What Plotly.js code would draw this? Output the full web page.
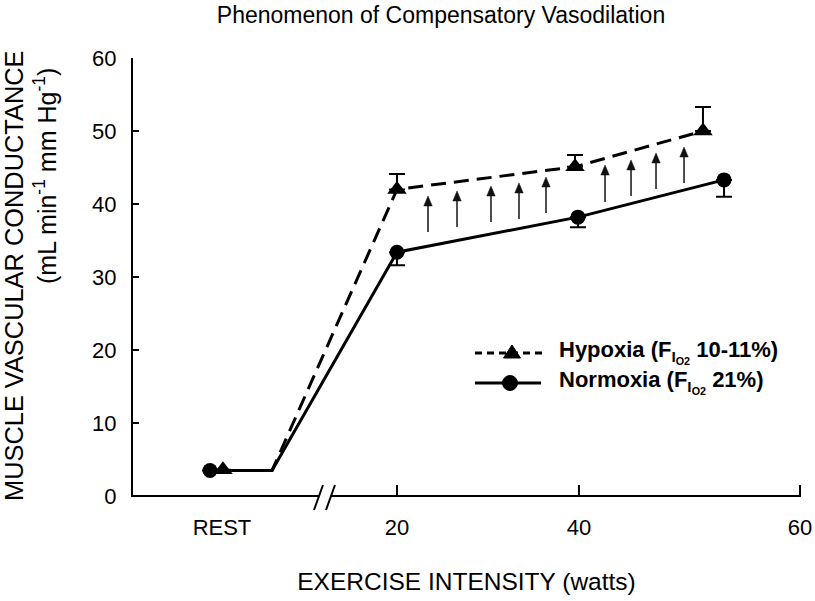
<!DOCTYPE html>
<html><head><meta charset="utf-8">
<script src="https://cdn.plot.ly/plotly-3.0.1.min.js"></script>
<style>html,body{margin:0;padding:0;background:#fff}</style>
</head><body><div id="chart" style="width:815px;height:601px"></div>
<script>
const FONT = 'Liberation Sans, Arial, Helvetica, sans-serif';

// x values are in the figure's drawn axis units
const xTickVals = [2.63, 20, 38.06, 60];
const xTickText = ['REST', '20', '40', '60'];
const xMarkTicks = [20, 38.06, 60];
const yTickVals = [0, 10, 20, 30, 40, 50, 60];

const hypoxiaX = [2.73, 20, 37.67, 50.37];
const hypoxiaY = [3.6, 42.0, 45.1, 50.0];
const hypoxiaErrUp = [0, 2.1, 1.6, 3.3];

const normoxiaX = [1.44, 20, 37.96, 52.46];
const normoxiaY = [3.5, 33.4, 38.2, 43.3];
const normoxiaErrDown = [0, 1.8, 1.4, 2.3];

const restLevel = 3.5;
const restSegmentEndX = 7.6;

const arrowX    = [23.08, 25.96, 29.33, 32.11, 34.79, 40.65, 43.23, 45.71, 48.49];
const arrowTail = [36.16, 36.85, 37.53, 37.95, 38.77, 40.27, 41.10, 42.05, 42.88];
const arrowHead = [41.10, 41.78, 42.47, 42.88, 43.70, 45.34, 46.03, 46.99, 47.81];

const breakX = [12.21, 13.40];

const X_MIN = -6.2, X_MAX = 60, Y_MIN = 0, Y_MAX = 60;
const W = 815, H = 601, ML = 133, MR = 15, MT = 58, MB = 105;
const PW = W - ML - MR, PH = H - MT - MB;
const UX = PW / (X_MAX - X_MIN), UY = PH / (Y_MAX - Y_MIN);
const xp = v => (v - X_MIN) / (X_MAX - X_MIN);
const pxX = px => (px - ML) / PW;
const pxY = py => (H - MB - py) / PH;

const lineX = (xs) => [xs[0], restSegmentEndX].concat(xs.slice(1));
const lineY = (ys) => [restLevel, restLevel].concat(ys.slice(1));

const traces = [
  { x: lineX(normoxiaX), y: lineY(normoxiaY), mode: 'lines', type: 'scatter',
    line: { color: '#000', width: 3 }, showlegend: false, hoverinfo: 'skip' },
  { x: lineX(hypoxiaX), y: lineY(hypoxiaY), mode: 'lines', type: 'scatter',
    line: { color: '#000', width: 3, dash: '15px,8px' }, showlegend: false, hoverinfo: 'skip' },
  { x: normoxiaX, y: normoxiaY, mode: 'markers', type: 'scatter', name: 'Normoxia',
    marker: { symbol: 'circle', size: 15, color: '#000' }, cliponaxis: false,
    error_y: { type: 'data', symmetric: false, array: normoxiaX.map(() => 0), arrayminus: normoxiaErrDown,
      color: '#000', thickness: 2, width: 8 }, showlegend: false },
  { x: hypoxiaX, y: hypoxiaY, mode: 'markers', type: 'scatter', name: 'Hypoxia',
    marker: { symbol: 'triangle-up', size: 17, color: '#000' }, cliponaxis: false,
    error_y: { type: 'data', symmetric: false, array: hypoxiaErrUp, arrayminus: hypoxiaX.map(() => 0),
      color: '#000', thickness: 2, width: 8 }, showlegend: false }
];

const shapes = [];
// x axis line with break
shapes.push({ type: 'line', xref: 'paper', yref: 'paper', x0: pxX(ML - 2), x1: xp(breakX[0]), y0: 0, y1: 0, line: { color: '#000', width: 2 } });
shapes.push({ type: 'line', xref: 'paper', yref: 'paper', x0: xp(breakX[1]), x1: 1.0015, y0: 0, y1: 0, line: { color: '#000', width: 2 } });
breakX.forEach(b => {
  shapes.push({ type: 'line', xref: 'paper', yref: 'paper',
    x0: xp(b) - 4.5 / PW, x1: xp(b) + 4.5 / PW, y0: -14 / PH, y1: 11 / PH, line: { color: '#000', width: 2 } });
});
xMarkTicks.forEach(t => {
  shapes.push({ type: 'line', xref: 'paper', yref: 'paper', x0: xp(t), x1: xp(t), y0: 0, y1: 11 / PH, line: { color: '#000', width: 2 } });
});
// compensatory vasodilation arrows (shaft + head), sized in pixels
const HEAD_LEN = 10 / UY, HEAD_HALF = 4.2 / UX;
arrowX.forEach((x, i) => {
  const base = arrowHead[i] - HEAD_LEN;
  shapes.push({ type: 'line', xref: 'x', yref: 'y', x0: x, x1: x, y0: arrowTail[i], y1: base + 0.1,
    line: { color: '#222', width: 1.6 } });
  shapes.push({ type: 'path', xref: 'x', yref: 'y', fillcolor: '#111', line: { color: '#111', width: 0.5 },
    path: `M ${x - HEAD_HALF} ${base} L ${x + HEAD_HALF} ${base} L ${x} ${arrowHead[i]} Z` });
});
// legend samples
shapes.push({ type: 'line', xref: 'paper', yref: 'paper', x0: pxX(475), x1: pxX(543), y0: pxY(353), y1: pxY(353), line: { color: '#000', width: 3, dash: '7px,5px' } });
shapes.push({ type: 'path', xref: 'paper', yref: 'paper', fillcolor: '#000', line: { color: '#000', width: 1 },
  path: `M ${pxX(503.5)} ${pxY(358)} L ${pxX(520.5)} ${pxY(358)} L ${pxX(512)} ${pxY(345)} Z` });
shapes.push({ type: 'line', xref: 'paper', yref: 'paper', x0: pxX(475), x1: pxX(541), y0: pxY(383), y1: pxY(383), line: { color: '#000', width: 3 } });
shapes.push({ type: 'circle', xref: 'paper', yref: 'paper', fillcolor: '#000', line: { color: '#000', width: 1 },
  x0: pxX(502.5), x1: pxX(517.5), y0: pxY(390.5), y1: pxY(375.5) });

const annotations = [];
annotations.push({ xref: 'paper', yref: 'paper', x: pxX(14), y: pxY(276), xanchor: 'center', yanchor: 'middle',
  textangle: -90, showarrow: false, text: 'MUSCLE VASCULAR CONDUCTANCE', font: { family: FONT, size: 25.4, color: '#000' } });
annotations.push({ xref: 'paper', yref: 'paper', x: pxX(45), y: pxY(176), xanchor: 'center', yanchor: 'middle',
  textangle: -90, showarrow: false, text: '(mL min<sup>-1</sup> mm Hg<sup>-1</sup>)', font: { family: FONT, size: 25, color: '#000' } });
annotations.push({ xref: 'paper', yref: 'paper', x: pxX(557), y: pxY(352), xanchor: 'left', yanchor: 'middle', showarrow: false,
  text: '<b>Hypoxia (F<sub>I<sub>O2</sub></sub> 10-11%)</b>', font: { family: FONT, size: 22, color: '#000' } });
annotations.push({ xref: 'paper', yref: 'paper', x: pxX(557), y: pxY(382), xanchor: 'left', yanchor: 'middle', showarrow: false,
  text: '<b>Normoxia (F<sub>I<sub>O2</sub></sub> 21%)</b>', font: { family: FONT, size: 22, color: '#000' } });

const layout = {
  width: W, height: H,
  margin: { l: ML, r: MR, t: MT, b: MB, pad: 0 },
  paper_bgcolor: '#fff', plot_bgcolor: '#fff',
  font: { family: FONT, color: '#000' },
  showlegend: false,
  title: { text: 'Phenomenon of Compensatory Vasodilation', font: { family: FONT, size: 23, color: '#000' },
    x: 441 / W, xref: 'container', xanchor: 'center', y: 1 - 15 / H, yref: 'container', yanchor: 'middle' },
  xaxis: { range: [X_MIN, X_MAX], showline: false, zeroline: false, showgrid: false,
    tickmode: 'array', tickvals: xTickVals, ticktext: xTickText, ticks: '',
    tickfont: { family: FONT, size: 22, color: '#000' }, ticklabelstandoff: 16, automargin: false,
    title: { text: 'EXERCISE INTENSITY (watts)', font: { family: FONT, size: 24.5, color: '#000' }, standoff: 33 } },
  yaxis: { range: [Y_MIN, Y_MAX], showline: true, linewidth: 2, linecolor: '#000', zeroline: false, showgrid: false,
    tickmode: 'array', tickvals: yTickVals, ticks: 'inside', ticklen: 6, tickwidth: 2, tickcolor: '#000',
    tickfont: { family: FONT, size: 22, color: '#000' }, ticklabelstandoff: 10, automargin: false },
  shapes: shapes,
  annotations: annotations
};

Plotly.newPlot('chart', traces, layout, { displayModeBar: false, staticPlot: true });
</script></body></html>
